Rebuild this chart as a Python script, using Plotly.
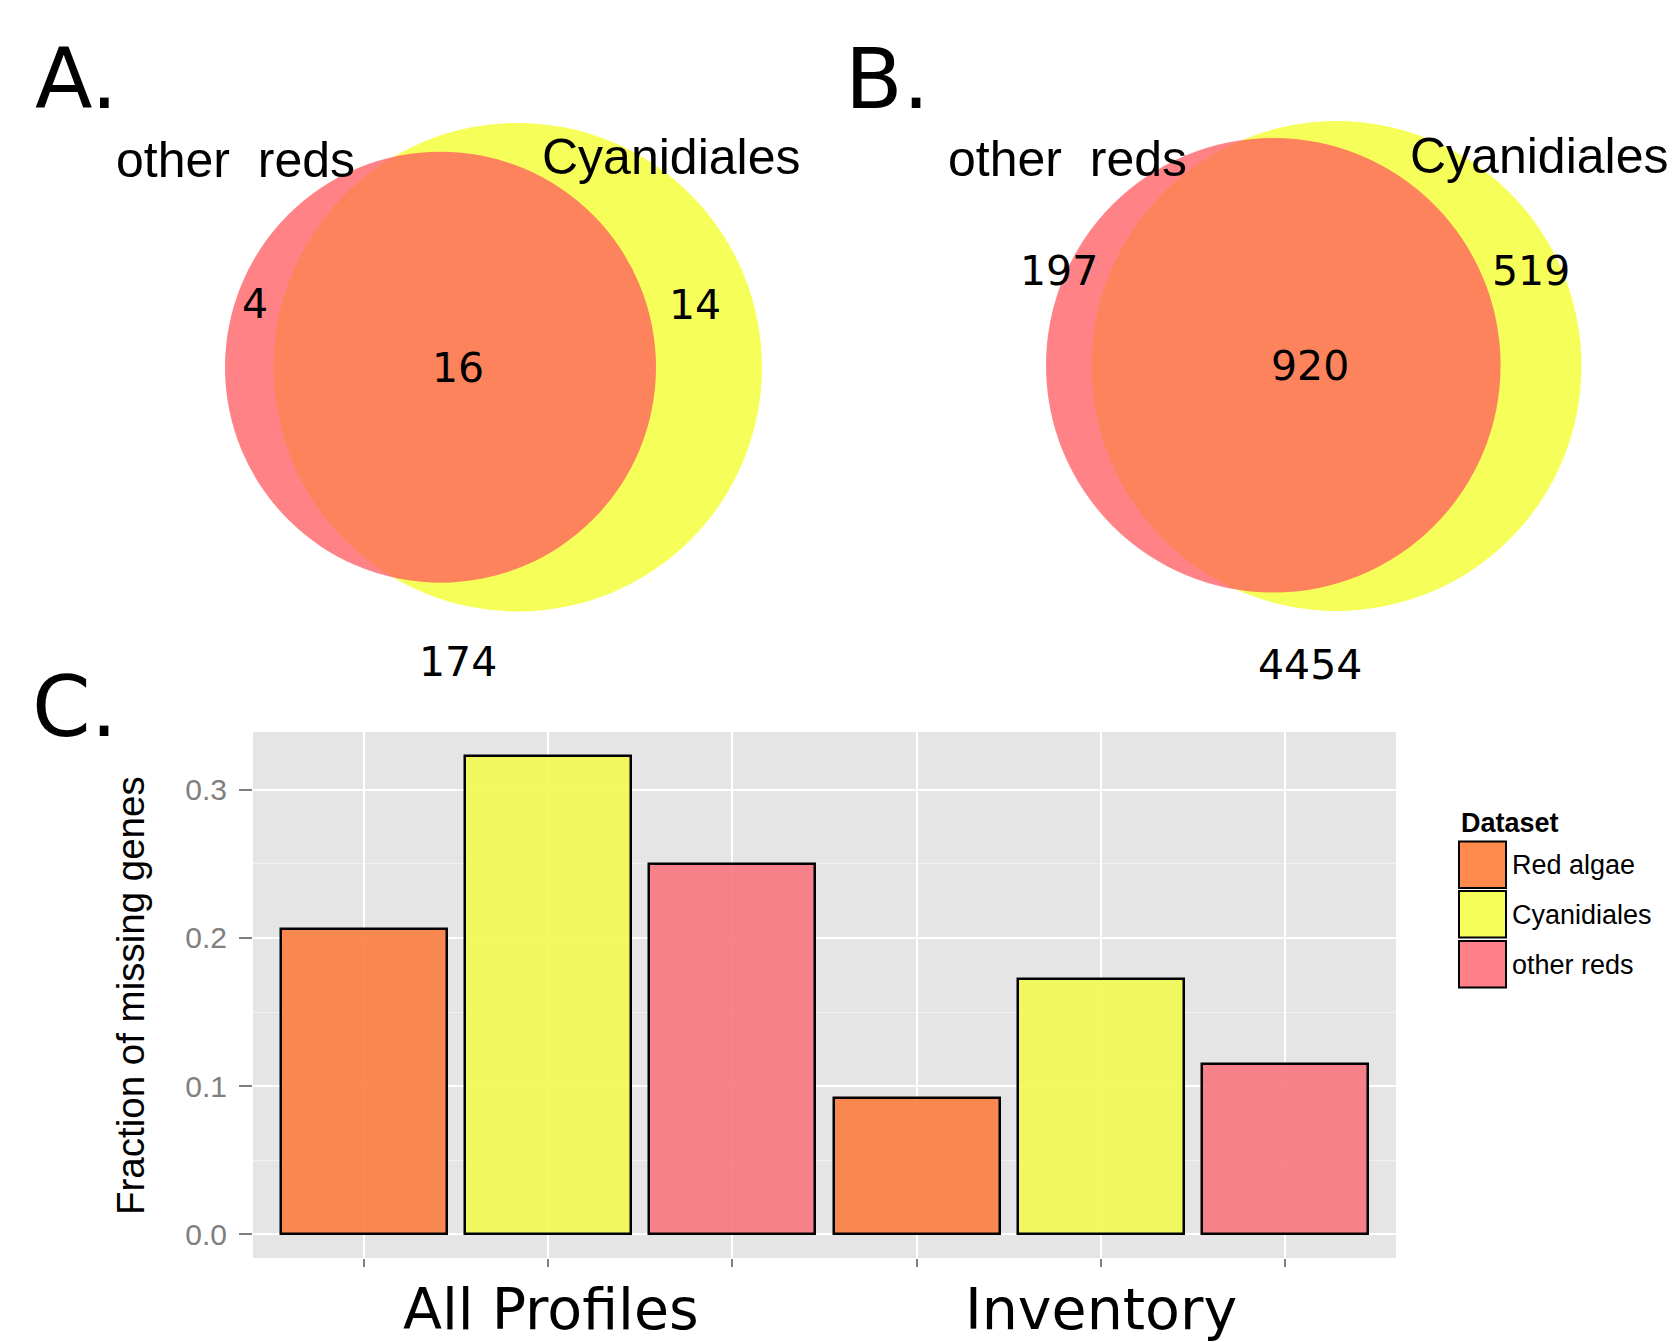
import plotly.graph_objects as go

W, H = 1673, 1342

# ---------------- data ----------------
groups = ["\u200aAll Profiles", "Inventory"]
datasets = ["Red algae", "Cyanidiales", "other reds"]
frac_all_profiles = [0.206, 0.323, 0.250]
frac_inventory = [0.092, 0.172, 0.115]
y_tick_values = [0.0, 0.1, 0.2, 0.3]
y_tick_labels = ["0.0", "0.1", "0.2", "0.3"]

venn_sets = ["other\u00a0\u00a0reds", "Cyanidiales"]
# counts: only other reds, shared, only Cyanidiales, in neither
venn_a_counts = [4, 16, 14, 174]
venn_b_counts = [197, 920, 519, 4454]
panel_letters = ["A.", "B.", "C."]

# ---------------- styles ----------------
raw_colors = {"Red algae": "#FF8A4C", "Cyanidiales": "#F6FF5A", "other reds": "#FF8088"}
bar_colors = {"Red algae": "rgba(250,128,66,0.92)",
              "Cyanidiales": "rgba(241,248,84,0.92)",
              "other reds": "rgba(249,120,128,0.92)"}
VENN_YELLOW = "#F6FF5A"
VENN_PINK = "rgba(255,88,92,0.745)"
SANS = "Liberation Sans, Arial, sans-serif"
DEJAVU = "DejaVu Sans, sans-serif"

# vertical layout factor (page is laid out slightly taller than the raw pixel grid)
K = 1.0075


def px(x):
    return x / W


def py(y):
    return 1 - y * K / H


fig = go.Figure()

# ---------------- panel C: bars ----------------
for i, name in enumerate(datasets):
    xs = [g * len(datasets) + i + 1 for g in range(len(groups))]
    ys = [frac_all_profiles[i], frac_inventory[i]]
    fig.add_trace(go.Bar(
        x=xs, y=ys, width=0.9, name=name, showlegend=False,
        marker=dict(color=bar_colors[name], line=dict(color="black", width=2.5)),
    ))

n_pos = len(groups) * len(datasets)
tick_pos = list(range(1, n_pos + 1))
tick_text = [""] * n_pos
for g, label in enumerate(groups):
    tick_text[g * len(datasets) + 1] = label

ymax = max(frac_all_profiles + frac_inventory)
pad = 0.05 * ymax

fig.update_layout(
    width=W, height=H,
    margin=dict(l=0, r=0, t=0, b=0),
    paper_bgcolor="white",
    plot_bgcolor="#E5E5E5",
    bargap=0,
    xaxis=dict(
        domain=[px(253), px(1396)],
        range=[0.4, n_pos + 0.6],
        tickmode="array", tickvals=tick_pos, ticktext=tick_text,
        ticks="outside", ticklen=8, tickwidth=2, tickcolor="#7F7F7F",
        tickfont=dict(family=DEJAVU, size=57, color="black"),
        ticklabelstandoff=-6,
        showgrid=True, gridcolor="white", gridwidth=2.2,
        zeroline=False, showline=False, fixedrange=True,
    ),
    yaxis=dict(
        domain=[py(1258), py(732)],
        range=[-pad, ymax + pad],
        tickmode="array", tickvals=y_tick_values, ticktext=y_tick_labels,
        ticks="outside", ticklen=13, tickwidth=2, tickcolor="#7F7F7F",
        tickfont=dict(family=SANS, size=30, color="#7F7F7F"),
        ticklabelstandoff=6,
        showgrid=True, gridcolor="white", gridwidth=2.2,
        minor=dict(tickvals=[0.05, 0.15, 0.25], showgrid=True,
                   gridcolor="#F2F2F2", gridwidth=1.4, ticks=""),
        zeroline=False, showline=False, fixedrange=True,
    ),
)

annotations = []
shapes = []


def text(t, x, y, size, family, xanchor="center", color="black", angle=0):
    annotations.append(dict(
        text=t, x=px(x), y=py(y), xref="paper", yref="paper",
        xanchor=xanchor, yanchor="middle", showarrow=False, textangle=angle,
        font=dict(family=family, size=size, color=color),
    ))


def circle(cx, cy, r, color):
    shapes.append(dict(
        type="circle", xref="paper", yref="paper",
        x0=px(cx - r), x1=px(cx + r), y0=py(cy + r), y1=py(cy - r),
        fillcolor=color, line=dict(width=0), layer="above",
    ))


# y axis title
text("Fraction of missing genes", 131, 996, 38.5, SANS, angle=-90)

# legend
text("<b>Dataset</b>", 1459, 823, 27, SANS, xanchor="left")
box_tops = [841.5, 891, 941]
for name, top in zip(datasets, box_tops):
    shapes.append(dict(
        type="rect", xref="paper", yref="paper",
        x0=px(1459), x1=px(1506), y0=py(top + 46.5), y1=py(top),
        fillcolor=raw_colors[name], line=dict(color="black", width=2), layer="above",
    ))
    text(name, 1510, top + 24, 27, SANS, xanchor="left")

# ---------------- panels A and B: Venn diagrams ----------------
venn_panels = [
    dict(pink=(440.5, 367.2, 215.5), yellow=(517.7, 367.2, 244.3),
         names=[(235, 160, "center"), (671, 157, "center")],
         counts=[(255, 304.5), (458, 368.3), (695, 304.6), (458, 662)],
         values=venn_a_counts),
    dict(pink=(1273.3, 365.3, 227.3), yellow=(1336.5, 366.0, 245.0),
         names=[(1067, 159, "center"), (1408, 156, "left")],
         counts=[(1059, 271), (1309.5, 366), (1531, 271), (1310, 665)],
         values=venn_b_counts),
]

for p in venn_panels:
    circle(*p["yellow"], VENN_YELLOW)
    circle(*p["pink"], VENN_PINK)
    for name, (x, y, anchor) in zip(venn_sets, p["names"]):
        text(name, x, y, 50, SANS, xanchor=anchor)
    for v, (x, y) in zip(p["values"], p["counts"]):
        text(str(v), x, y, 41, DEJAVU)

# panel letters
text(panel_letters[0], 33, 79, 84, DEJAVU, xanchor="left")
text(panel_letters[1], 843, 79, 84, DEJAVU, xanchor="left")
text(panel_letters[2], 30, 707, 84, DEJAVU, xanchor="left")

fig.update_layout(annotations=annotations, shapes=shapes)

fig.write_html("out.html")
